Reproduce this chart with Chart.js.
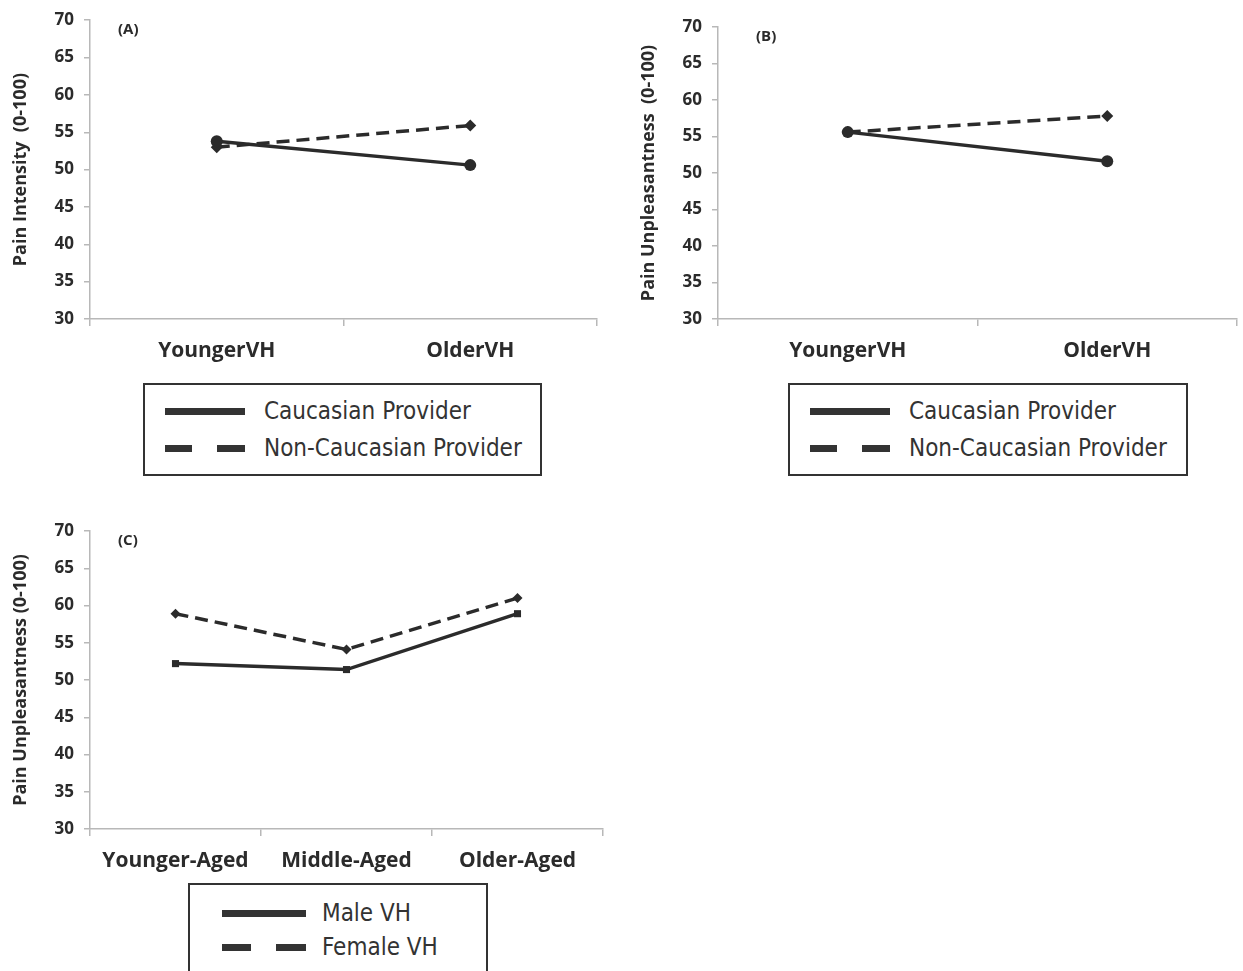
<!DOCTYPE html>
<html>
<head>
<meta charset="utf-8">
<script src="https://cdn.jsdelivr.net/npm/chart.js@4.4.0/dist/chart.umd.min.js"></script>
<style>
  body { margin: 0; background: #fff; width: 1243px; height: 971px; overflow: hidden; position: relative; }
  canvas { position: absolute; }
  .legend { position: absolute; border: 2px solid #333; box-sizing: border-box; background: #fff; }
  .row { position: absolute; left: 0; height: 30px; font-family: "DejaVu Sans Condensed", "DejaVu Sans", sans-serif; font-size: 24px; color: #333; }
  .row span { position: absolute; top: 0; line-height: 30px; white-space: nowrap; }
  .solid { position: absolute; top: 12px; height: 7px; background: #333; }
  .dash { position: absolute; top: 12px; height: 7px; background: #333; }
</style>
</head>
<body>
<canvas id="chartA" width="620" height="380" style="left:0;top:0"></canvas>
<canvas id="chartB" width="615" height="380" style="left:628px;top:0"></canvas>
<canvas id="chartC" width="620" height="380" style="left:0;top:510px"></canvas>

<div class="legend" style="left:143px;top:383px;width:399px;height:93px">
  <div class="row" style="top:11px;width:100%"><div class="solid" style="left:20px;width:80px"></div><span style="left:119px">Caucasian Provider</span></div>
  <div class="row" style="top:48px;width:100%"><div class="dash" style="left:20px;width:27px"></div><div class="dash" style="left:72px;width:28px"></div><span style="left:119px">Non-Caucasian Provider</span></div>
</div>
<div class="legend" style="left:788px;top:383px;width:400px;height:93px">
  <div class="row" style="top:11px;width:100%"><div class="solid" style="left:20px;width:80px"></div><span style="left:119px">Caucasian Provider</span></div>
  <div class="row" style="top:48px;width:100%"><div class="dash" style="left:20px;width:27px"></div><div class="dash" style="left:72px;width:28px"></div><span style="left:119px">Non-Caucasian Provider</span></div>
</div>
<div class="legend" style="left:188px;top:883px;width:300px;height:100px">
  <div class="row" style="top:13px;width:100%"><div class="solid" style="left:32px;width:84px"></div><span style="left:132px">Male VH</span></div>
  <div class="row" style="top:47px;width:100%"><div class="dash" style="left:32px;width:29px"></div><div class="dash" style="left:86px;width:30px"></div><span style="left:132px">Female VH</span></div>
</div>

<script>
// data
const groupsVH = ['YoungerVH', 'OlderVH'];
const intensityCaucasian = [53.8, 50.6];
const intensityNonCaucasian = [53.0, 55.9];
const unpleasCaucasian = [55.6, 51.6];
const unpleasNonCaucasian = [55.6, 57.8];

const ageGroups = ['Younger-Aged', 'Middle-Aged', 'Older-Aged'];
const unpleasMaleVH = [52.2, 51.4, 58.9];
const unpleasFemaleVH = [58.9, 54.1, 61.0];

const yMin = 30, yMax = 70, yStep = 5;

const ink = '#2b2b2b';
const axisGray = '#b8b8b8';

const panelLabel = {
    id: 'panelLabel',
    afterDraw(chart, args, opts) {
        const { ctx, chartArea } = chart;
        ctx.save();
        ctx.font = 'bold 15px "Open Sans", sans-serif';
        ctx.fillStyle = ink;
        ctx.textBaseline = 'middle';
        ctx.fillText(opts.text, chartArea.left + opts.dx, chartArea.top + opts.dy);
        ctx.restore();
    }
};

function solidSet(label, data, pointStyle, radius) {
    return {
        label: label,
        data: data,
        borderColor: ink,
        backgroundColor: ink,
        borderWidth: 3.5,
        pointStyle: pointStyle,
        pointRadius: radius,
        pointBorderWidth: 0
    };
}

function dashedSet(label, data, radius) {
    return {
        label: label,
        data: data,
        borderColor: ink,
        backgroundColor: ink,
        borderWidth: 3.5,
        borderDash: [13, 7],
        pointStyle: 'rectRot',
        pointRadius: radius,
        pointBorderWidth: 0
    };
}

function makePanel(id, labels, datasets, yTitle, tag, pad) {
    const ctx = document.getElementById(id).getContext('2d');
    return new Chart(ctx, {
        type: 'line',
        data: { labels: labels, datasets: datasets },
        plugins: [panelLabel],
        options: {
            responsive: false,
            animation: false,
            layout: { padding: { left: 0, top: pad.top, right: pad.right, bottom: 0 } },
            plugins: {
                legend: { display: false },
                tooltip: { enabled: false },
                panelLabel: { text: tag, dx: pad.tagX, dy: 10 }
            },
            scales: {
                x: {
                    offset: true,
                    grid: { offset: true, drawOnChartArea: false, drawTicks: true, tickLength: 7, color: axisGray, lineWidth: 1.5 },
                    border: { color: axisGray, width: 1.5 },
                    ticks: { color: ink, font: { family: 'Open Sans', weight: 'bold', size: 21 }, padding: 12, maxRotation: 0 },
                    afterFit: s => { s.height = 61; }
                },
                y: {
                    min: yMin,
                    max: yMax,
                    grid: { drawOnChartArea: false, drawTicks: true, tickLength: 6, color: axisGray, lineWidth: 1.5 },
                    border: { color: axisGray, width: 1.5 },
                    ticks: { stepSize: yStep, color: ink, font: { family: 'Open Sans', weight: 'bold', size: 17 }, padding: 10 },
                    title: { display: true, text: yTitle, color: ink, font: { family: 'Open Sans', weight: 'bold', size: 18 }, padding: { top: 10, bottom: 0 } },
                    afterFit: s => { s.width = pad.left; }
                }
            }
        }
    });
}

makePanel('chartA', groupsVH, [
    solidSet('Caucasian Provider', intensityCaucasian, 'circle', 6),
    dashedSet('Non-Caucasian Provider', intensityNonCaucasian, 6)
], 'Pain Intensity  (0-100)', '(A)', { left: 90, top: 17, right: 23, tagX: 28 });

makePanel('chartB', groupsVH, [
    solidSet('Caucasian Provider', unpleasCaucasian, 'circle', 6),
    dashedSet('Non-Caucasian Provider', unpleasNonCaucasian, 6)
], 'Pain Unpleasantness  (0-100)', '(B)', { left: 90, top: 27, right: 6, tagX: 38 });

makePanel('chartC', ageGroups, [
    solidSet('Male VH', unpleasMaleVH, 'rect', 5),
    dashedSet('Female VH', unpleasFemaleVH, 5)
], 'Pain Unpleasantness (0-100)', '(C)', { left: 90, top: 21, right: 17, tagX: 28 });
</script>
</body>
</html>
